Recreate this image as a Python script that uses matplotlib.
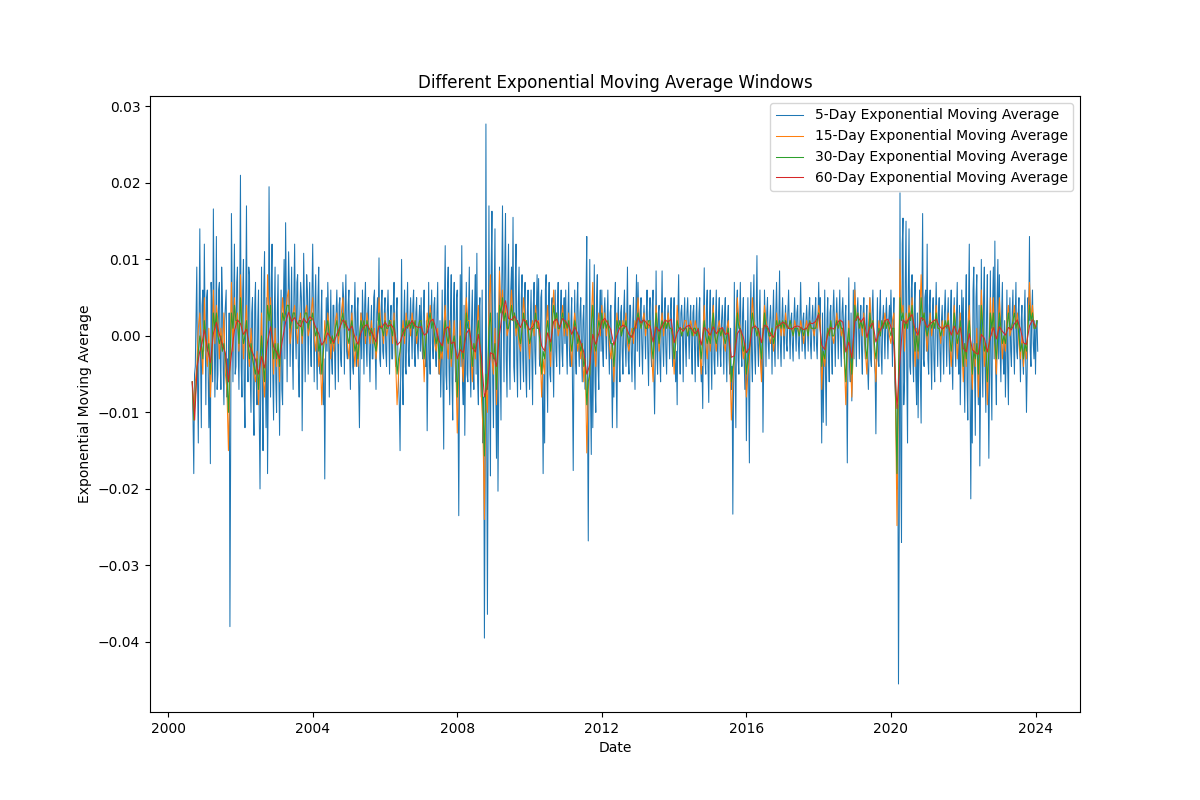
import numpy as np
import pandas as pd
import matplotlib
matplotlib.use("Agg")
import matplotlib.pyplot as plt

# Values in thousandths (x 1e-3), one row per calendar year 2000..2024
years = list(range(2000, 2025))

ema5 = [
    [-6, -11, -18, -5, -4, 3, 9, -6, -14, 2, 14, -3, -12, 4, 6, -2],
    [12, 2, -9, 5, 6, -4, -12, -3, -16.7, 7, 4, -6, 16.6, 3, -8, -2, 13, -7, -5, 6, 7, -3, -7, 9,
     5, -4, -9, 2, 4, 6, -8, -3, -6, 3, -38, -14, 16, 5, -6, 4, 12, -5, -4, 7, 9, -2, -7, 5],
    [21, -4, -8, 6, 10, -7, -12, 4, 17, -2, -6, 9, 8, -5, -10, 3, 5, -8, -13, 4, 7, -6, -9, 2,
     6, -11, -20, -5, 9, -7, -15, 6, 11, -3, -12, 5, -18, -6, 19.5, 4, -8, 7, 12, -5, -11, 3, 9, -6],
    [-10, 3, 8, -5, -13, -2, 6, -7, -9, 4, 10, -3, 14.8, 5, -6, 2, 11, 6, -4, 3, 9, -2, -7, 5,
     12, 1, -3, 7, 8, -4, -8, 3, 7, 5, -12.4, -2, 10.8, 4, -6, 2, 8, 6, -5, 3, 7, -1, -4, 5],
    [12, 3, -6, 4, 8, -2, -7, 5, 9, -4, -5, 2, 6, -6, -9, -3, -18.7, -4, 5, -2, 7, 3, -8, -1,
     6, -3, -5, 4, 4, -2, -7, 3, 6, 1, -6, 4, 5, -3, -4, 2, 7, 5, -5, 3, 8, -2, -3, 4],
    [6, -2, -7, 3, 4, -4, -5, 2, 7, 1, -4, 3, 5, -6, -12, -2, 3, -3, 6, 2, -5, 4, 7, -1,
     -4, 3, 5, -2, -6, 1, 4, -3, -3, 5, 6, -2, -7, 3, 5, 2, 10.2, -3, -4, 4, 6, -2, -3, 3],
    [5, -2, -4, 3, 6, 1, -5, 2, 4, -3, -3, 4, 7, -1, -4, 3, 5, -2, -6, -9, -15, -3, 10, -5,
     -9, 2, 6, -4, -5, 3, 7, -2, -4, 2, 5, 1, -3, 4, 6, -2, -4, 3, 5, -1, -3, 2, 4, -2],
    [5, -1, -3, 3, 6, -2, -4, 2, -12.4, -4, 7, -3, -5, 2, 6, -1, -3, 4, 5, -2, -4, 3, 7, -3,
     -5, 2, -8, -3, 6, -6, -14.8, 4, 11.8, -5, -7, 6, 9, -4, -9, 3, 8, -6, -11, 4, 7, -3, -6, 5],
    [6, -8, -23.5, -5, 8, -4, 11.8, -6, -9, 4, -13, -3, 7, -5, -6, 3, 9, -4, -8, 2, 6, -3, -7, 4,
     8, -5, 10.8, -6, -9, 3, 5, -4, -8, 6, -14, -8, -39.5, -18, 27.7, -12, -36.4, -10, 17, -8, -18.3, 9, 16.3, -6],
    [-12, 5, 14, -7, -16, 3, -20.3, -8, 9, -4, -11, 6, 17, 4, -6, 9, 16, -3, -8, 5, 12, -2, -7, 6,
     9, 2, 15.5, -4, -6, 7, 12, -3, -8, 4, 9, -2, -7, 5, 8, -3, -6, 4, 7, -5, -8, 3, 6, -2],
    [-7, 2, 6, -3, -9, 4, 7, -2, -5, 3, 8, 1, 7.5, -3, -4, 5, 6, -7, -18, -5, -14, 6, 8, -4,
     -10, 3, 7, -5, -6, 4, 5, -3, -8, 2, 6, -2, -4, 4, 7, -1, -5, 3, 6, -2, -4, 3, 5, -1],
    [6, -1, -5, 3, 7, -2, -4, 2, 5, -6, -17.6, -2, 6, -3, -5, 4, 7, -1, -4, 3, 5, -2, -6, 2,
     4, -3, -7, 5, 13, -9, -26.8, -6, 10, -8, -15.5, 4, -12, -3, 9.3, -6, -10, 5, 8, -4, -7, 3, 6, -2],
    [6, -2, -4, 3, 5, 1, -3, 2, 6, -1, -5, 3, 4, -4, -12, -3, -8, 4, 7, -5, -12, 2, 5, -3,
     -6, 3, 4, -2, -5, 3, 6, -1, -4, 2, 9, -3, -5, 4, 4, -2, -6, 2, 5, -3, -7, 3, 8, -2],
    [7, 2, -4, 3, 5, -1, -5, 2, 4, 1, -3, 3, 6, -2, -6.5, 3, 5, -2, -4, 4, 6, -5, -10.2, -3,
     8.5, -2, -5, 3, 4, -3, -6, 2, 8.5, -1, -4, 3, 5, -2, -5, 2, 4, 1, -3, 3, 5, -1, -4, 2],
    [5, -3, -6, -2, -9, 3, 8, -2, -5, 3, 4, 1, -6, 2, 5, -1, -4, 3, 5, 1, -3, 2, 4, -2,
     -5, 3, 4, -1, -6, 2, 5, -2, -4, 3, 5, -3, -6, -4, -9.5, 2, 8.9, -3, -5, 4, 6, -4, -8.7, 3],
    [6, -2, -7, 3, 5, -3, -5, 2, 6, -1, -4, 3, 5, -2, -4, 2, 4, 1, -5, 3, 5, -2, -6, 2,
     4, -3, -5, 1, -7, -4, -23.3, -6, 7, -5, -12, 4, 6, -3, -5, 2, 7, -2, -4, 3, 5, -3, -7, 2],
    [-13.7, -4, 5, -6, -16.6, 2, 7, -3, -6, 4, 8, -2, -5, 3, 10.5, -1, -4, 2, 6, -2, -5, 1, -12.6, -3,
     6, 2, -4, 3, 5, -1, -3, 2, 4, 1, -5, 2, 6, -1, -4, 3, 7, 1, -3, 2, 8.5, -1, -4, 2],
    [5, 1, -3, 2, 4, -1, -2, 3, 6, 1, -3, 2, 3, -1, -3.3, 2, 5, 1, -2, 3, 4, -1, -3, 2,
     7, 1, -2, 2, 3, -1, -3, 2, 4, 1, -2, 3, 5, -1, -3, 2, 4, 1, -2, 3, 5, -1, -3, 2],
    [7, 2, 5, -4, -14, 3, -11.3, -2, 6, -5, -11.7, 2, 5, -3, -6, 3, 4, -2, -5, 3, 6, 1, -4, 2,
     5, 1, -3, 2, 6, -1, -4, 3, 5, 1, -3, 2, 4, -5, -16.6, -2, 7.6, -4, -6, 3, -8.5, -4, 6, -3],
    [7, 2, -4, 3, 5, 1, -3, 2, 4, -2, -5, 3, 5, -1, -3, 2, 4, -4, -7, -2, 5, -3, -4, 3,
     6, 1, -3, -5, -12.8, -2, 5, -3, -4, 3, 6, -2, -5, 2, 4, 1, -3, 2, 5, 1, -3, 2, 4, 1],
    [6, 1, -4, 2, 5, -6, -8, -13, -20, -9, -45.5, -24, 18.7, -15, -27, 12, 15.4, -9, -6, 7, 15, -5, -14, 6,
     14, -4, -5, 6, 8, -3, -6, 4, 7, -5, -9, 3, -10.7, -2, 6, -5, -11.4, 4, 16, -3, -4, 5, 6, -2],
    [12, -3, -5, 4, 6, -2, -7, 3, 5, -3, -6, 2, 7, 1, -4, 3, 5, -2, -6, 2, 4, -1, -5, 3,
     6, 1, -4, 2, 5, -2, -5, 3, 6, -3, -7, 2, 5, -1, -4, 3, 7, -2, -5, 4, -9, -3, 6, -2],
    [5, -4, -10, 3, 8, -6, -11, 4, 12, -7, -21.3, -5, -14, 6, 9, -4, -13, 5, 8, -3, -9, 4, -17, -6,
     10, -3, -8, 5, 9, -4, -10, 3, 8, -6, -16, -3, 8.5, -5, -11, 4, 9, -3, 12.4, -4, -9, 5, 10, -3],
    [8, -2, -6, 3, 7, -3, -5, 2, -8, -2, 6, -4, -9, 2, 5, -2, -4, 3, 6, -1, -5, 2, 7, -2,
     -3, 3, 5, -1, -6, 2, 4, -3, -5, 2, 6, -3, -10, -4, 5, 2, 13, -2, -4, 3, 6, -1, -3, 2],
    [-5, 1, 2, -2],
]

ema15 = [
    [-6, -11, -6, -4, 1, 3, -1, -5],
    [5, -2, -4, 1, -8, -3, 6, -1, 4, 2, -3, 1, -2, 3, -5, -7, -15, -4, 7, -2, 5, 1, 3, -2],
    [8, 2, -3, 1, 4, -2, -4, 1, -2, -5, -6, -2, -9, -4, 3, -5, -8, -3, 8, 2, 5, -1, -5, 1],
    [-4, -1, -6, 1, 5, 2, 3, 5, 6, -1, 1, 3, 4, 1, -1, 2, 3, -1, 2, 3, 4, 0, 1, 3],
    [5, 0, -2, 1, -4, -2, -9, -3, 2, -1, 3, 1, -3, 0, -2, 2, 3, -1, 1, 3, 5, 1, 2, -1],
    [-3, 1, 3, -1, -4, 0, -4, -1, 3, 1, 2, -1, 3, 1, -1, 2, -1, 1, -3, -1, 5, 2, 1, -1],
    [3, 0, 1, 2, 2, -1, 3, -3, -9, -5, -2, 0, 2, -1, 3, 1, 2, 0, 3, 1, 2, -1, 1, 2],
    [2, 0, -6, -1, 3, 1, 4, 2, 2, -1, -2, 1, -5, -2, -3, 1, 4, -1, -3, 2, -4, -1, 2, -3],
    [-12.7, -5, 2, -3, -6, 1, 5, 2, 2, -2, -6, -1, -3, 1, 4, -2, -8, -12, -24, -6, -10, 4, 8, -3],
    [-5, 1, -9, -2, 8.5, 3, 6, 2, 4, 0, 1, 3, 6, 2, 3, 0, 2, -1, -2, 1, 5, 2, 2, 0],
    [-3, 1, 2, 0, 4, 1, 2, -2, -8, -3, -5, 1, 4, -1, -4, 2, 6, 1, 3, 0, 1, 2, 4, 0],
    [2, 0, 3, -1, -4, 1, 3, 1, -2, 0, -3, -1, -6, -3, -15.3, -7, -5, 2, 7, -2, -4, 1, 3, 0],
    [4, 1, 3, 0, 2, -1, -3, -1, -6, -1, 3, 1, 2, 0, 2, 1, 3, -1, -2, 0, 1, -1, 2, 1],
    [5, 2, 1, 2, 3, 0, 2, 1, 2, -2, -6, 0, 4, 1, -2, 1, 3, 0, 2, 1, 3, 1, 1, 0],
    [-5, -1, 4, 1, 1, 0, 1, 2, 2, 0, 1, 2, 1, 0, 2, 1, 1, -2, -5, 0, 4, -1, -3, 1],
    [-2, 1, 4, 0, -2, 1, 2, 0, 1, -1, -2, 1, 2, -3, -11, -6, -3, 1, 5, 2, 1, -1, -3, -1],
    [-8, -5, -3, 1, 5, 2, 1, 0, 1, -2, -6, 1, 4, 2, 1, 0, -1, 1, -2, 0, 3, 1, 2, 0],
    [2, 0, 3, 1, 1, 2, 1, 0, 2, 1, 1, 0, 2, 1, -1, 1, 2, 0, 2, 1, 1, 0, 2, 1],
    [4, 2, -7, -2, -4, -1, 1, 0, 2, 0, -1, 1, 3, 1, 2, 0, 1, -3, -9, -2, 2, -3, -8, -1],
    [6, 2, 3, 1, 2, 0, 3, -2, -5, 1, 5, 1, 2, -2, -6, -1, 2, 0, 2, 1, 3, 1, 2, 0],
    [-1, 2, 3, -8, -24.8, -6, 10, 3, 4, -2, 3, 1, 4, 2, 5, 1, -4, 1, -3, 2, 8, 2, 3, 1],
    [-2, 1, 3, 0, 2, 1, 4, 1, 1, -1, 2, 0, 2, 1, 3, -1, -4, 0, 4, 1, -3, 0, 3, -1],
    [-6, -1, -4, 1, 4, -2, -7, -1, -4, 1, -8, -2, 6, 1, -4, -1, -9, -2, 5, 0, 5, -2, -5, 1],
    [5, 1, -3, 0, -2, 2, 4, 0, 1, 2, 4, 1, 3, -1, -3, 0, -4, -1, -3, 2, 7, 2, 4, 1],
    [1, 2],
]

ema30 = [
    [-6, -11, -8, -5, -2, 0, -1, -3],
    [2, 0, -2, -1, -5, -2, 3, 1, 3, 0, -1, 0, -2, -1, -3, -5, -10, -3, 3, 1, 4, 2, 2, -1],
    [5, 1, -1, 0, 2, -1, -3, -1, -3, -4, -5, -3, -7, -3, 0, -3, -6, -1, 4, 2, 4, 0, -3, -1],
    [-3, -1, -4, 0, 3, 2, 3, 4, 4, 1, 2, 3, 3, 1, 1, 2, 2, 0, 2, 3, 3, 1, 2, 2],
    [3, 1, 0, 1, -2, -1, -5, -2, 0, 1, 2, 0, -1, 0, -1, 1, 2, 0, 1, 2, 3, 1, 2, 0],
    [-1, 1, 2, 0, -2, -1, -3, 0, 2, 1, 2, 0, 2, 1, 0, 1, 0, -1, -2, 0, 3, 1, 1, 0],
    [2, 1, 1, 2, 1, 0, 2, -1, -5, -3, -2, 0, 1, 0, 2, 1, 2, 1, 2, 1, 2, 0, 1, 2],
    [2, 0, -3, -1, 1, 2, 3, 1, 2, 0, -1, 0, -3, -1, -2, 0, 2, 0, -1, 1, -3, -1, 0, -2],
    [-8, -3, 0, -2, -3, 0, 3, 1, 1, -1, -4, -1, -2, 0, 2, -1, -5, -9, -15.7, -5, -7, 1, 3, -2],
    [-3, -1, -7, -2, 4, 3, 5, 2, 3, 1, 1, 2, 4, 2, 3, 1, 2, 0, -1, 1, 3, 1, 2, 1],
    [-1, 0, 1, 1, 3, 1, 1, -1, -5, -2, -3, 0, 2, 0, -2, 1, 4, 2, 3, 1, 1, 2, 3, 1],
    [2, 1, 2, 0, -2, 0, 2, 1, -1, 0, -2, -1, -4, -3, -9, -6, -5, 1, 4, -1, -2, 0, 2, 1],
    [3, 1, 2, 1, 2, 0, -1, -1, -4, -1, 2, 1, 2, 0, 1, 1, 2, 0, -1, 0, 0, 1, 1, 2],
    [3, 2, 1, 2, 2, 1, 1, 2, 2, -1, -3, 0, 3, 1, -1, 1, 2, 1, 2, 1, 2, 1, 1, 0],
    [-3, -1, 2, 1, 1, 0, 1, 1, 1, 0, 1, 1, 0, 1, 1, 0, 1, -1, -3, 0, 2, 0, -1, 0],
    [-1, 1, 3, 0, -1, 0, 1, 0, 1, 0, -1, 0, 1, -2, -6, -4, -3, 0, 3, 1, 1, 0, -2, -1],
    [-5, -3, -2, 1, 3, 1, 1, 0, 1, -1, -3, 0, 3, 1, 1, 0, 0, 1, -1, 0, 2, 1, 2, 1],
    [2, 1, 2, 1, 1, 2, 1, 0, 1, 1, 1, 0, 1, 1, 0, 1, 1, 0, 2, 1, 1, 1, 1, 2],
    [3, 1, -4, -2, -3, -1, 1, 0, 2, 0, 0, 1, 2, 1, 2, 1, 1, -2, -6, -1, 1, -2, -5, -1],
    [4, 2, 3, 1, 2, 1, 2, -1, -3, 0, 3, 1, 2, -1, -3, -1, 1, 0, 2, 1, 2, 1, 2, 1],
    [0, 1, 1, -6, -18, -5, 5, 2, 3, 1, 2, 1, 3, 2, 4, 1, -2, 0, -2, 1, 5, 2, 3, 1],
    [0, 1, 2, 1, 2, 1, 3, 1, 1, 0, 1, 1, 2, 1, 2, 0, -2, 0, 3, 1, -1, 0, 2, 0],
    [-4, -1, -3, 0, 2, -1, -5, -2, -3, -1, -5, -1, 4, 1, -2, -1, -6, -2, 3, 1, 3, -1, -3, 0],
    [3, 1, -1, 0, -1, 1, 3, 1, 1, 2, 3, 1, 2, 0, -2, -1, -3, -1, -2, 1, 4, 2, 3, 1],
    [1, 2],
]

ema60 = [
    [-6, -11, -4, -2.2, -1],
    [0.8, -1.6, -3.5, 0.3, 1.8, 0.2, -1.1, -2.3, -6, -2.4, 0.7, 2.1],
    [1.6, 0.2, 0.9, -1.3, -2.2, -3.1, -5, -2.7, -4.2, -0.8, 1.2, -1.4],
    [-2.1, -3, -0.4, 1.8, 3.1, 1.9, 2.4, 1.6, 1.2, 2.3, 1.7, 2.5],
    [2.2, 1.1, 0.3, -1.2, -0.6, 0.4, -0.3, -0.9, 0.2, 1.1, 2.1, 1.6],
    [0.7, 1.3, -0.2, -1.1, 0.4, 1.2, 1.5, 0.8, 0.1, -0.8, 1.3, 1.1],
    [1.8, 1.2, 1.5, 0.9, -1.2, -0.8, 0.3, 1.1, 1.4, 2.0, 1.3, 1.1],
    [1.2, 0.1, 0.4, 1.9, 2.2, 0.8, -0.7, -1.3, 0.9, 1.2, -1, -0.8],
    [-3, -1.8, -2.2, 0.3, 0.9, -1.6, -2.1, 0.2, -2.8, -8, -6.5, -2.2],
    [-2.4, -4, 0.2, 3.1, 4.6, 2.3, 2.1, 2.6, 1.8, 1.1, 2.2, 1.6],
    [0.8, 1.2, 2.1, 1.7, -1.3, -2, 0.4, -0.8, 1.9, 2.2, 1.1, 2.3],
    [1.8, 1.3, 0.2, 1.2, 0.3, -0.9, -2.1, -5, -3.8, 0.2, -1.1, 0.3],
    [1.9, 2.3, 1.6, 0.8, -1.2, 0.1, 1.1, 1.4, 1.2, 0.2, -0.2, 1.0],
    [2.4, 1.7, 2.1, 1.6, 1.3, -0.8, 1.2, 0.6, 1.3, 2.1, 1.8, 2.2],
    [-0.9, 0.4, 1.1, 0.6, 1.2, 1.4, 0.8, 0.3, 0.9, -1.2, 1.1, 0.7],
    [0.1, 1.2, 0.3, 0.8, 1.1, 0.2, 0.4, -2.8, -2.6, 0.3, 0.9, -0.2],
    [-2.2, -1.6, 1.1, 1.3, 0.8, -0.9, 1.4, 1.2, 0.3, -0.2, 1.2, 1.4],
    [1.8, 1.6, 1.0, 0.9, 1.2, 1.3, 1.1, 0.8, 1.0, 1.7, 1.6, 1.9],
    [2.8, -1.2, -1.8, 0.2, 1.1, 0.9, 1.6, 2.1, 1.8, -2.1, -0.8, -2.9],
    [1.9, 2.6, 1.8, 2.4, -0.2, 1.2, 1.7, -0.8, 0.4, 1.1, 2.0, 2.2],
    [1.2, -1.3, -9.5, -3.2, 2.1, 1.6, 2.3, 2.8, 0.8, 0.1, 2.4, 2.1],
    [1.1, 1.6, 1.9, 2.2, 1.3, 0.9, 1.2, 1.4, 0.1, 1.3, 0.2, 1.1],
    [-1.6, -2.1, 0.3, -1.8, -2.2, -2.4, 0.2, -0.3, -2.1, -0.2, 1.1, -0.4],
    [1.2, 0.6, 0.1, 1.1, 0.8, 1.6, 2.1, 0.9, -0.9, -1.1, 1.3, 2.1],
    [1.2],
]

labels = [
    "5-Day Exponential Moving Average",
    "15-Day Exponential Moving Average",
    "30-Day Exponential Moving Average",
    "60-Day Exponential Moving Average",
]


def build_series(rows):
    dates, vals = [], []
    for yr, row in zip(years, rows):
        start = pd.Timestamp("2000-09-01") if yr == 2000 else pd.Timestamp(f"{yr}-01-01")
        end = pd.Timestamp("2024-01-31") if yr == 2024 else pd.Timestamp(f"{yr + 1}-01-01")
        d = pd.date_range(start, end, periods=len(row) + 1)[:-1]
        dates.extend(d)
        vals.extend(row)
    return pd.Series(np.array(vals, dtype=float) * 1e-3, index=pd.DatetimeIndex(dates))


fig, ax = plt.subplots(figsize=(12, 8), dpi=100)
for rows, lab in zip([ema5, ema15, ema30, ema60], labels):
    s = build_series(rows)
    ax.plot(s.index, s.values, linewidth=0.75, label=lab)

ax.set_title("Different Exponential Moving Average Windows")
ax.set_xlabel("Date")
ax.set_ylabel("Exponential Moving Average")
ax.legend(loc="upper right")
fig.savefig("out.png", dpi=100)
